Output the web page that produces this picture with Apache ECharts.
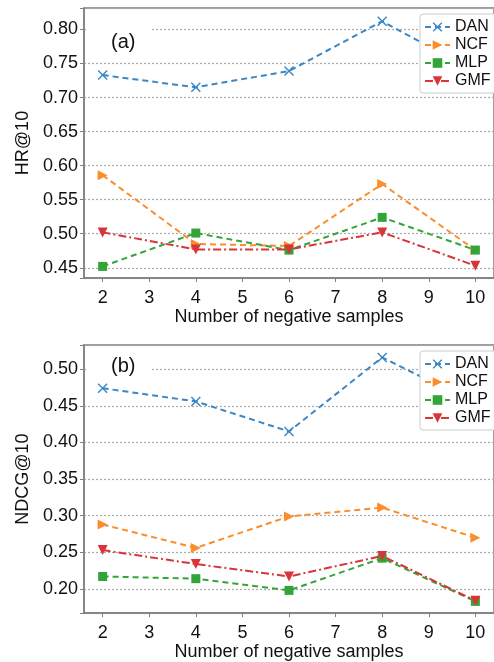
<!DOCTYPE html>
<html>
<head>
<meta charset="utf-8">
<script src="https://cdn.jsdelivr.net/npm/echarts@6/dist/echarts.min.js"></script>
<style>
    html, body { margin: 0; padding: 0; background: #fff; }
    #chart { width: 494px; height: 662px; }
</style>
</head>
<body>
<div id="chart"></div>
<script>
    // number of negative samples
    const negSamples = [2, 4, 6, 8, 10];
    const methods = ['DAN', 'NCF', 'MLP', 'GMF'];

    // (a) HR@10
    const hrDAN = [0.733, 0.715, 0.739, 0.812, 0.738];
    const hrNCF = [0.586, 0.485, 0.482, 0.573, 0.476];
    const hrMLP = [0.452, 0.501, 0.476, 0.524, 0.476];
    const hrGMF = [0.502, 0.477, 0.477, 0.502, 0.453];

    // (b) NDCG@10
    const ndDAN = [0.474, 0.456, 0.415, 0.516, 0.453];
    const ndNCF = [0.288, 0.256, 0.299, 0.311, 0.270];
    const ndMLP = [0.217, 0.214, 0.198, 0.242, 0.183];
    const ndGMF = [0.253, 0.234, 0.217, 0.245, 0.184];

    const font = "'Liberation Sans', Arial, sans-serif";
    const colors = ['#3a87c6', '#fb8d2c', '#33a437', '#d9343a'];
    const symbols = [
        'path://M0,1L1,0L5,4L9,0L10,1L6,5L10,9L9,10L5,6L1,10L0,9L4,5Z',
        'path://M0,0L10,5L0,10Z',
        'rect',
        'path://M0,0L10,0L5,10Z'
    ];
    const dashes = [[6, 4], [6, 4], [6, 4], [8, 3, 2, 3]];

    const chart = echarts.init(document.getElementById('chart'));

    function pairs(vals) {
        return negSamples.map((x, i) => [x, vals[i]]);
    }

    function xAxisOf(idx) {
        return {
            type: 'value', gridIndex: idx, min: 1.6, max: 10.4,
            minInterval: 1, maxInterval: 1,
            name: 'Number of negative samples', nameLocation: 'middle', nameGap: 29,
            nameTextStyle: { fontFamily: font, fontSize: 18, color: '#111' },
            axisLine: { show: true, lineStyle: { color: '#7f7f7f', width: 1.5 } },
            axisTick: { show: true, length: 4, lineStyle: { color: '#7f7f7f' } },
            axisLabel: {
                fontFamily: font, fontSize: 18, color: '#111', margin: 11,
                showMinLabel: false, showMaxLabel: false,
                formatter: v => Math.abs(v - Math.round(v)) < 1e-6 ? String(Math.round(v)) : ''
            },
            splitLine: { show: false }
        };
    }

    function yAxisOf(idx, min, max, name) {
        return {
            type: 'value', gridIndex: idx, min: min, max: max,
            minInterval: 0.05, maxInterval: 0.05,
            name: name, nameLocation: 'middle', nameGap: 44, nameRotate: 90,
            nameTextStyle: { fontFamily: font, fontSize: 18, color: '#111' },
            axisLine: { show: true, lineStyle: { color: '#7f7f7f', width: 1.5 } },
            axisTick: { show: true, length: 4, lineStyle: { color: '#7f7f7f' } },
            axisLabel: {
                fontFamily: font, fontSize: 18, color: '#111', margin: 6,
                formatter: v => Math.abs(v * 20 - Math.round(v * 20)) < 1e-6 ? v.toFixed(2) : ''
            },
            splitLine: { show: true, lineStyle: { color: '#aaaaaa', type: [2, 2], width: 1.2 } }
        };
    }

    function seriesOf(idx, lists) {
        return lists.map((vals, k) => ({
            name: methods[k], type: 'line',
            xAxisIndex: idx, yAxisIndex: idx,
            data: pairs(vals),
            symbol: symbols[k], symbolSize: k === 2 ? 9 : 10,
            color: colors[k],
            lineStyle: { color: colors[k], width: 2, type: dashes[k] },
            itemStyle: { color: colors[k] },
            z: 5 + k
        }));
    }

    function legendOf(top) {
        return {
            orient: 'vertical', left: 420, top: top,
            data: methods,
            itemWidth: 25, itemHeight: 12, itemGap: 2,
            padding: [5, 6, 4, 4],
            backgroundColor: '#fff', borderColor: '#cccccc', borderWidth: 1, borderRadius: 3,
            textStyle: { fontFamily: font, fontSize: 16, color: '#111', lineHeight: 14 },
            z: 20
        };
    }

    const option = {
        backgroundColor: '#fff',
        animation: false,
        grid: [
            { left: 84, top: 8, width: 415, height: 270, show: true, borderColor: '#7f7f7f', borderWidth: 1.5 },
            { left: 84, top: 345, width: 415, height: 269, show: true, borderColor: '#7f7f7f', borderWidth: 1.5 }
        ],
        xAxis: [xAxisOf(0), xAxisOf(1)],
        yAxis: [yAxisOf(0, 0.435, 0.8315, 'HR@10'), yAxisOf(1, 0.167, 0.533, 'NDCG@10')],
        legend: [legendOf(14), legendOf(351)],
        graphic: [
            { type: 'rect', left: 86, top: 16, shape: { width: 66, height: 32 }, style: { fill: '#fff' }, z: 3 },
            { type: 'text', left: 111, top: 32, style: { text: '(a)', font: '20px ' + font, fill: '#111' }, z: 4 },
            { type: 'rect', left: 86, top: 354, shape: { width: 66, height: 30 }, style: { fill: '#fff' }, z: 3 },
            { type: 'text', left: 111, top: 356, style: { text: '(b)', font: '20px ' + font, fill: '#111' }, z: 4 }
        ],
        series: seriesOf(0, [hrDAN, hrNCF, hrMLP, hrGMF]).concat(seriesOf(1, [ndDAN, ndNCF, ndMLP, ndGMF]))
    };

    chart.setOption(option);
</script>
</body>
</html>
